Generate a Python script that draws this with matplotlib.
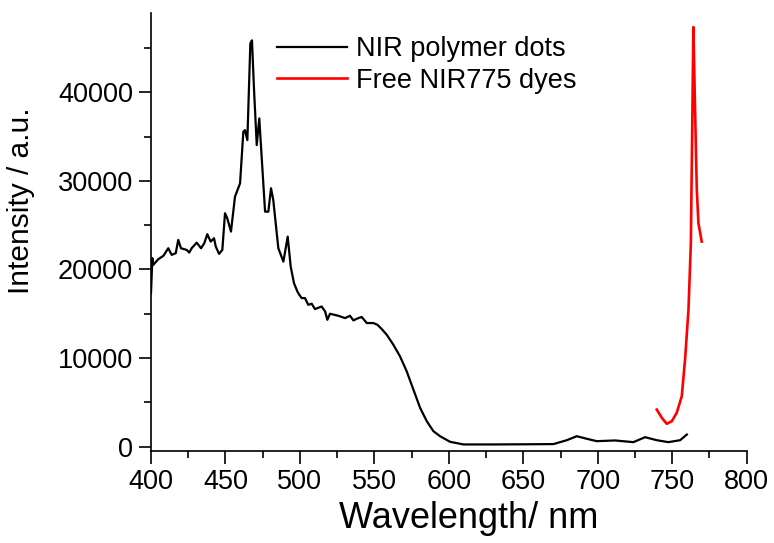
import matplotlib
matplotlib.use("Agg")
import matplotlib.pyplot as plt
from matplotlib.ticker import MultipleLocator

# NIR polymer dots emission
dots_nm = [400.0, 400.9, 401.5, 404.9, 408.3, 411.6, 413.9, 416.6, 418.3, 420.1,
           424.0, 425.7, 427.3, 430.7, 433.6, 435.8, 437.8, 440.1, 442.3, 443.5,
           445.7, 447.9, 449.7, 451.2, 453.7, 456.4, 459.8, 462.0, 463.1, 464.7,
           466.7, 467.8, 469.2, 471.0, 472.7, 474.3, 476.6, 478.8, 480.6, 482.1,
           485.5, 488.9, 491.8, 493.8, 496.0, 498.3, 499.6, 501.2, 503.4, 505.6,
           507.9, 510.1, 514.6, 516.9, 518.4, 520.2, 525.8, 530.3, 533.6, 535.9,
           539.2, 541.5, 544.9, 549.3, 552.0, 554.9, 558.3, 562.7, 567.2, 571.7,
           576.2, 580.7, 585.2, 589.6, 594.1, 600.8, 609.8, 629.9, 652.3, 670.2,
           679.2, 685.9, 692.6, 699.3, 711.6, 723.9, 731.8, 739.6, 747.4, 755.3,
           759.8]
dots_int = [17330, 21280, 20520, 21160, 21540, 22400, 21650, 21840, 23340, 22400,
            22210, 21910, 22400, 23030, 22400, 22970, 23980, 23150, 23530, 22590,
            21760, 22210, 26350, 25790, 24280, 28220, 29730, 35550, 35740, 34610,
            45510, 45880, 40240, 34050, 37060, 32730, 26530, 26530, 29170, 27850,
            22400, 20890, 23710, 20330, 18460, 17510, 17140, 16770, 16770, 16010,
            16130, 15530, 15820, 15260, 14320, 15000, 14770, 14510, 14770, 14250,
            14510, 14630, 13950, 13950, 13760, 13280, 12630, 11510, 10190, 8500,
            6430, 4370, 2860, 1740, 1170, 540, 240, 240, 260, 280,
            720, 1170, 880, 610, 690, 500, 1060, 720, 500, 720,
            1360]

# Free NIR775 dyes emission
dye_nm = [739.6, 743.0, 746.3, 749.7, 753.0, 756.4, 758.6, 760.9, 762.5, 763.3,
          764.2, 765.1, 766.5, 767.6, 769.8]
dye_int = [4180, 3250, 2570, 2860, 3810, 5680, 9820, 15450, 22970, 34240,
           47380, 39870, 28970, 25220, 23150]

plt.rcParams["font.family"] = ["Liberation Sans", "DejaVu Sans"]

fig = plt.figure(figsize=(7.74, 5.43), dpi=100)
ax = fig.add_axes([151 / 774, 1 - 451 / 543, 595.7 / 774, 438.3 / 543])

ax.plot(dots_nm, dots_int, color="black", linewidth=1.6, label="NIR polymer dots")
ax.plot(dye_nm, dye_int, color="#FF0000", linewidth=1.9, label="Free NIR775 dyes")

ax.set_xlim(400, 800)
ax.set_ylim(-500, 49000)
ax.xaxis.set_major_locator(MultipleLocator(50))
ax.xaxis.set_minor_locator(MultipleLocator(25))
ax.yaxis.set_major_locator(MultipleLocator(10000))
ax.yaxis.set_minor_locator(MultipleLocator(5000))

for s in ("top", "right"):
    ax.spines[s].set_visible(False)
for s in ("left", "bottom"):
    ax.spines[s].set_linewidth(1.2)
ax.tick_params(which="major", direction="out", length=9, width=1.2, labelsize=19.5, pad=4)
ax.tick_params(which="minor", direction="out", length=5, width=1.2)

ax.set_xlabel("Wavelength/ nm", fontsize=26)
ax.xaxis.set_label_coords(0.533, -0.115)
ax.set_ylabel("Intensity / a.u.", fontsize=21.5)
ax.yaxis.set_label_coords(-0.195, 0.57)

ax.legend(frameon=False, loc="upper left", bbox_to_anchor=(0.2115, 0.946),
          borderaxespad=0, borderpad=0, fontsize=19.5, handlelength=2.6,
          handletextpad=0.33, labelspacing=0.2)

fig.savefig("out.png", dpi=100)
